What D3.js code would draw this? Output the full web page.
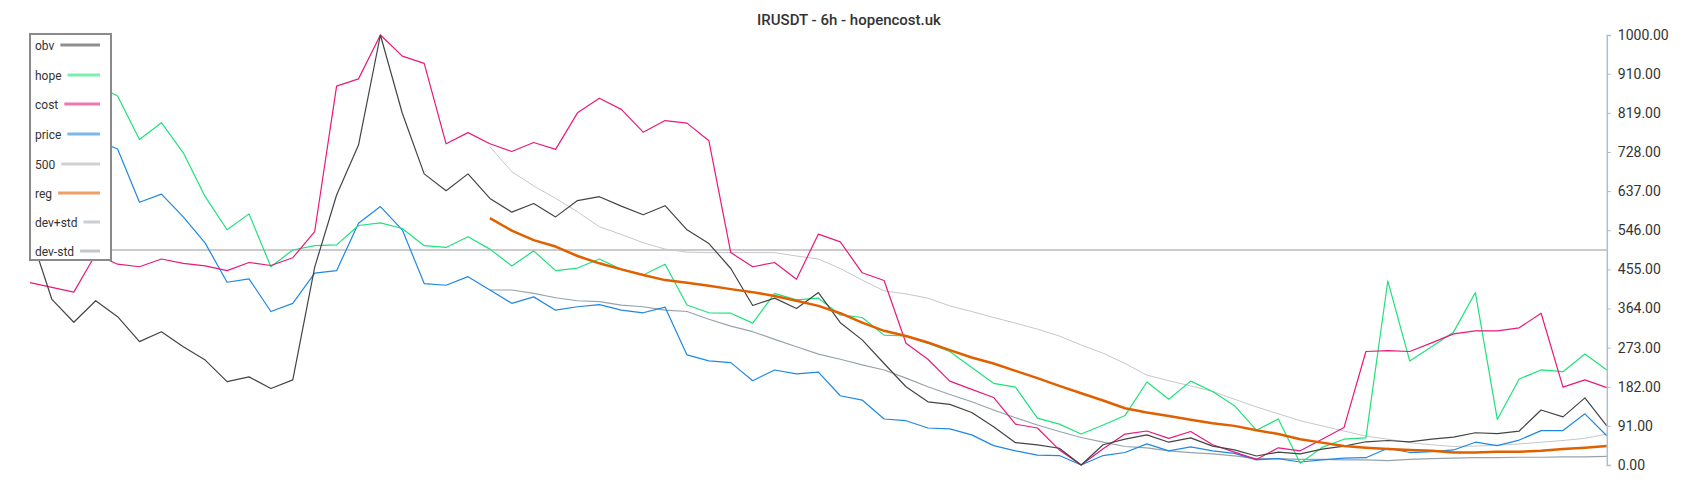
<!DOCTYPE html>
<html>
<head>
<meta charset="utf-8">
<script src="https://cdn.jsdelivr.net/npm/d3@7"></script>
<style>
  html, body { margin: 0; padding: 0; background: #fff; }
  svg { display: block; font-family: Roboto, "Noto Sans", sans-serif; }
</style>
</head>
<body>
<svg id="chart" width="1700" height="500"></svg>
<script>
const title = "IRUSDT - 6h - hopencost.uk";
const tickValues = [0, 91, 182, 273, 364, 455, 546, 637, 728, 819, 910, 1000];
const seriesNames = ["obv", "hope", "cost", "price", "500", "reg", "dev+std", "dev-std"];

const obv = [540, 385, 332, 382, 345, 287, 310, 275, 244, 194, 205, 178, 198,
  460, 628, 744, 1000, 818, 677, 638, 677,
  620, 588, 608, 577, 615, 624, 602, 582, 603, 547,
  515, 457, 371, 388, 364, 401, 331, 291, 236, 182,
  147, 141, 122, 89, 52, 47, 39, 0, 47, 60,
  70, 53, 63, 44, 35, 21, 30, 26, 37, 44,
  54, 57, 54, 60, 65, 75, 73, 79, 128, 112, 156, 91];

const hope = [820, 850, 870, 885,
  858, 757, 796, 726, 624, 547, 584, 461, 500,
  510, 512, 557, 563, 550, 510, 506, 531,
  502, 463, 498, 452, 458, 479, 455, 442, 467, 372,
  354, 353, 330, 399, 384, 388, 349, 343, 302, 300,
  283, 264, 227, 190, 181, 109, 95, 72, 93, 115,
  193, 153, 195, 171, 138, 81, 107, 4, 41, 60,
  63, 428, 242, 275, 309, 401, 106, 200, 221, 217, 258, 221];

const cost = [424, 413, 402, 490, 467, 461, 479, 469, 463, 452, 471, 464, 482,
  543, 881, 898, 1000, 951, 934, 747, 773,
  747, 729, 750, 734, 819, 853, 827, 774, 801, 795,
  754, 494, 461, 471, 432, 537, 519, 447, 429, 283,
  246, 195, 176, 157, 95, 86, 35, 0, 38, 72,
  79, 62, 78, 47, 30, 13, 40, 33, 60, 87,
  264, 266, 264, 284, 305, 312, 312, 319, 353, 181, 198, 180];

const price = [700, 720, 740, 756,
  735, 611, 630, 577, 516, 425, 433, 357, 376,
  446, 452, 562, 601, 547, 422, 418, 438,
  407, 376, 391, 360, 368, 373, 360, 354, 367, 256,
  242, 238, 196, 221, 212, 216, 161, 151, 107, 103,
  86, 84, 70, 45, 33, 23, 22, 0, 22, 29,
  49, 33, 42, 33, 27, 12, 15, 7, 12, 16,
  17, 39, 29, 31, 35, 53, 45, 58, 80, 80, 119, 68];

const level500 = 500;

const N0 = Array(21).fill(null);
const reg = N0.concat([574, 545, 523, 508, 486, 469, 455, 442, 430, 424,
  417, 409, 402, 393, 382, 370, 353, 331, 312, 300,
  285, 267, 250, 236, 219, 202, 184, 167, 150, 132,
  122, 114, 105, 97, 91, 81, 72, 60, 52, 44,
  40, 37, 35, 33, 29, 29, 31, 31, 33, 37, 40, 44]);

const devPlus = N0.concat([740, 682, 649, 620, 589, 554, 536, 517, 502, 495,
  494, 494, 494, 494, 486, 479, 457, 430, 405, 398,
  388, 370, 357, 343, 330, 316, 300, 279, 260, 236,
  209, 196, 184, 171, 153, 135, 119, 103, 91, 79,
  67, 60, 52, 47, 43, 44, 46, 49, 53, 57, 62, 72]);

const devMinus = N0.concat([407, 407, 399, 389, 382, 380, 372, 368, 360, 357,
  339, 323, 310, 292, 275, 258, 246, 233, 221, 202,
  182, 164, 147, 128, 110, 93, 78, 64, 53, 43,
  40, 33, 29, 26, 21, 15, 15, 13, 13, 12,
  12, 10, 13, 15, 16, 17, 17, 18, 18, 19, 19, 20]);

const colors = {
  "obv": "#444444", "hope": "#1ee27a", "cost": "#e8197a", "price": "#1e88e5",
  "500": "#cccccc", "reg": "#e06000", "dev+std": "#c4c8cc", "dev-std": "#97a3ab"
};

const svg = d3.select("#chart");
const n = obv.length;
const x = d3.scaleLinear().domain([0, n - 1]).range([30, 1606.8]);
const y = d3.scaleLinear().domain([0, 1000]).range([465, 35]);

const line = d3.line()
  .defined(d => d != null)
  .x((d, i) => x(i))
  .y(d => y(d));

const g = svg.append("g");

// 500 line
g.append("line")
  .attr("x1", x(0)).attr("x2", x(n - 1))
  .attr("y1", y(level500)).attr("y2", y(level500))
  .attr("stroke", colors["500"]).attr("stroke-width", 2);

function drawSeries(data, name, w) {
  g.append("path").datum(data)
    .attr("d", line)
    .attr("fill", "none")
    .attr("stroke", colors[name])
    .attr("stroke-width", w)
    .attr("stroke-linejoin", "round");
}
drawSeries(devPlus, "dev+std", 1);
drawSeries(devMinus, "dev-std", 1.2);
drawSeries(price, "price", 1.2);
drawSeries(hope, "hope", 1.2);
drawSeries(cost, "cost", 1.2);
drawSeries(obv, "obv", 1.2);
drawSeries(reg, "reg", 2.5);

// right axis
const axis = d3.axisRight(y).tickValues(tickValues).tickFormat(d3.format(".2f"))
  .tickSize(4).tickSizeOuter(4).tickPadding(7);
const ax = svg.append("g").attr("transform", `translate(${x(n - 1)},0)`).call(axis);
ax.select(".domain").attr("stroke", "#b0bec5").attr("stroke-width", 1.5);
ax.selectAll(".tick line").attr("stroke", "#b0bec5").attr("stroke-width", 1);
ax.selectAll(".tick text").attr("fill", "#333").style("font-size", "14px")
  .style("font-family", "Roboto, sans-serif");

// title
svg.append("text")
  .attr("x", 849).attr("y", 25)
  .attr("text-anchor", "middle")
  .attr("fill", "#333")
  .style("font-size", "15px")
  .style("font-weight", 500)
  .text(title);

// legend
const lg = svg.append("g");
lg.append("rect")
  .attr("x", 30).attr("y", 34).attr("width", 81).attr("height", 226)
  .attr("fill", "#fff").attr("stroke", "#8a8a8a").attr("stroke-width", 2);
const rowY = [45, 75, 104, 134, 164, 193, 222, 251];
seriesNames.forEach((name, i) => {
  const t = lg.append("text")
    .attr("x", 35).attr("y", rowY[i] + 4.5)
    .attr("fill", "#333")
    .style("font-size", "12px")
    .text(name);
  const w = t.node().getComputedTextLength();
  lg.append("line")
    .attr("x1", 35 + w + 6).attr("x2", 100)
    .attr("y1", rowY[i]).attr("y2", rowY[i])
    .attr("stroke", colors[name])
    .attr("stroke-opacity", name === "500" || name === "dev+std" ? 0.9 : 0.6)
    .attr("stroke-width", 3);
});
</script>
</body>
</html>
